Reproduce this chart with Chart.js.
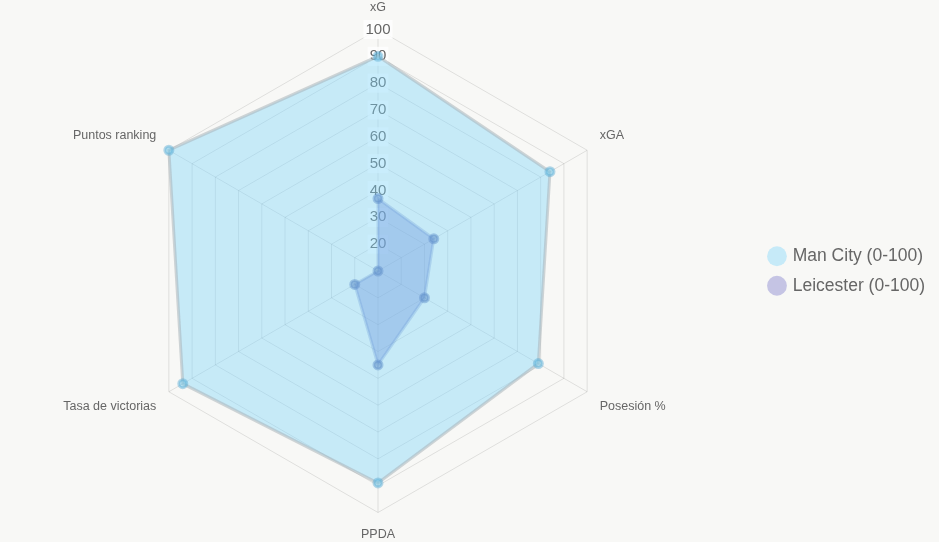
<!DOCTYPE html>
<html>
<head>
<meta charset="utf-8">
<script src="https://cdn.jsdelivr.net/npm/chart.js@4"></script>
<style>
  html, body { margin: 0; padding: 0; background: #f8f8f6; }
  #wrap { width: 939px; height: 542px; }
</style>
</head>
<body>
<div id="wrap"><canvas id="radar"></canvas></div>
<script>
// Radar: team profile comparison (scaled 0-100)
const metrics = ["xG", "xGA", "Posesión %", "PPDA", "Tasa de victorias", "Puntos ranking"];
const manCity = [90, 84, 79, 89, 94, 100];
const leicester = [37, 34, 30, 45, 20, 10];
const tickMin = 10;
const tickMax = 100;
const tickStep = 10;

const fontFamily = "Arial, 'Liberation Sans', sans-serif";

const config = {
    type: "radar",
    data: {
        labels: metrics,
        datasets: [
            {
                label: "Man City (0-100)",
                data: manCity,
                fill: true,
                backgroundColor: "rgba(123, 213, 250, 0.4)",
                borderColor: "rgba(170, 180, 185, 0.55)",
                borderWidth: 3,
                pointBackgroundColor: "rgba(110, 200, 235, 0.5)",
                pointBorderColor: "rgba(90, 170, 210, 0.45)",
                pointRadius: 4
            },
            {
                label: "Leicester (0-100)",
                data: leicester,
                fill: true,
                backgroundColor: "rgba(110, 120, 205, 0.42)",
                borderColor: "rgba(100, 120, 190, 0.3)",
                borderWidth: 3,
                pointBackgroundColor: "rgba(80, 100, 170, 0.5)",
                pointBorderColor: "rgba(80, 100, 170, 0.45)",
                pointRadius: 4
            }
        ]
    },
    options: {
        responsive: true,
        maintainAspectRatio: false,
        animation: false,
        plugins: {
            legend: {
                position: "right",
                labels: {
                    usePointStyle: true,
                    pointStyle: "circle",
                    boxWidth: 14,
                    boxHeight: 14,
                    color: "#666",
                    font: { size: 17.5, family: fontFamily },
                    padding: 12,
                    generateLabels(chart) {
                        // legend dots: flat, no outline
                        const items = Chart.defaults.plugins.legend.labels.generateLabels(chart);
                        const dots = ["rgba(198, 234, 248, 1)", "rgba(197, 196, 228, 1)"];
                        items.forEach((item, i) => {
                            item.lineWidth = 0;
                            item.strokeStyle = "transparent";
                            item.fillStyle = dots[i];
                        });
                        return items;
                    }
                }
            },
            tooltip: { enabled: false }
        },
        layout: { padding: { right: 4 } },
        scales: {
            r: {
                min: tickMin,
                max: tickMax,
                ticks: {
                    stepSize: tickStep,
                    color: "#666",
                    font: { size: 15, family: fontFamily },
                    backdropColor: "rgba(255, 255, 255, 0.75)"
                },
                grid: { color: "rgba(0, 0, 0, 0.1)" },
                angleLines: { color: "rgba(0, 0, 0, 0.1)" },
                pointLabels: {
                    color: "#666",
                    font: { size: 12.5, family: fontFamily }
                }
            }
        }
    }
};

new Chart(document.getElementById("radar"), config);
</script>
</body>
</html>
